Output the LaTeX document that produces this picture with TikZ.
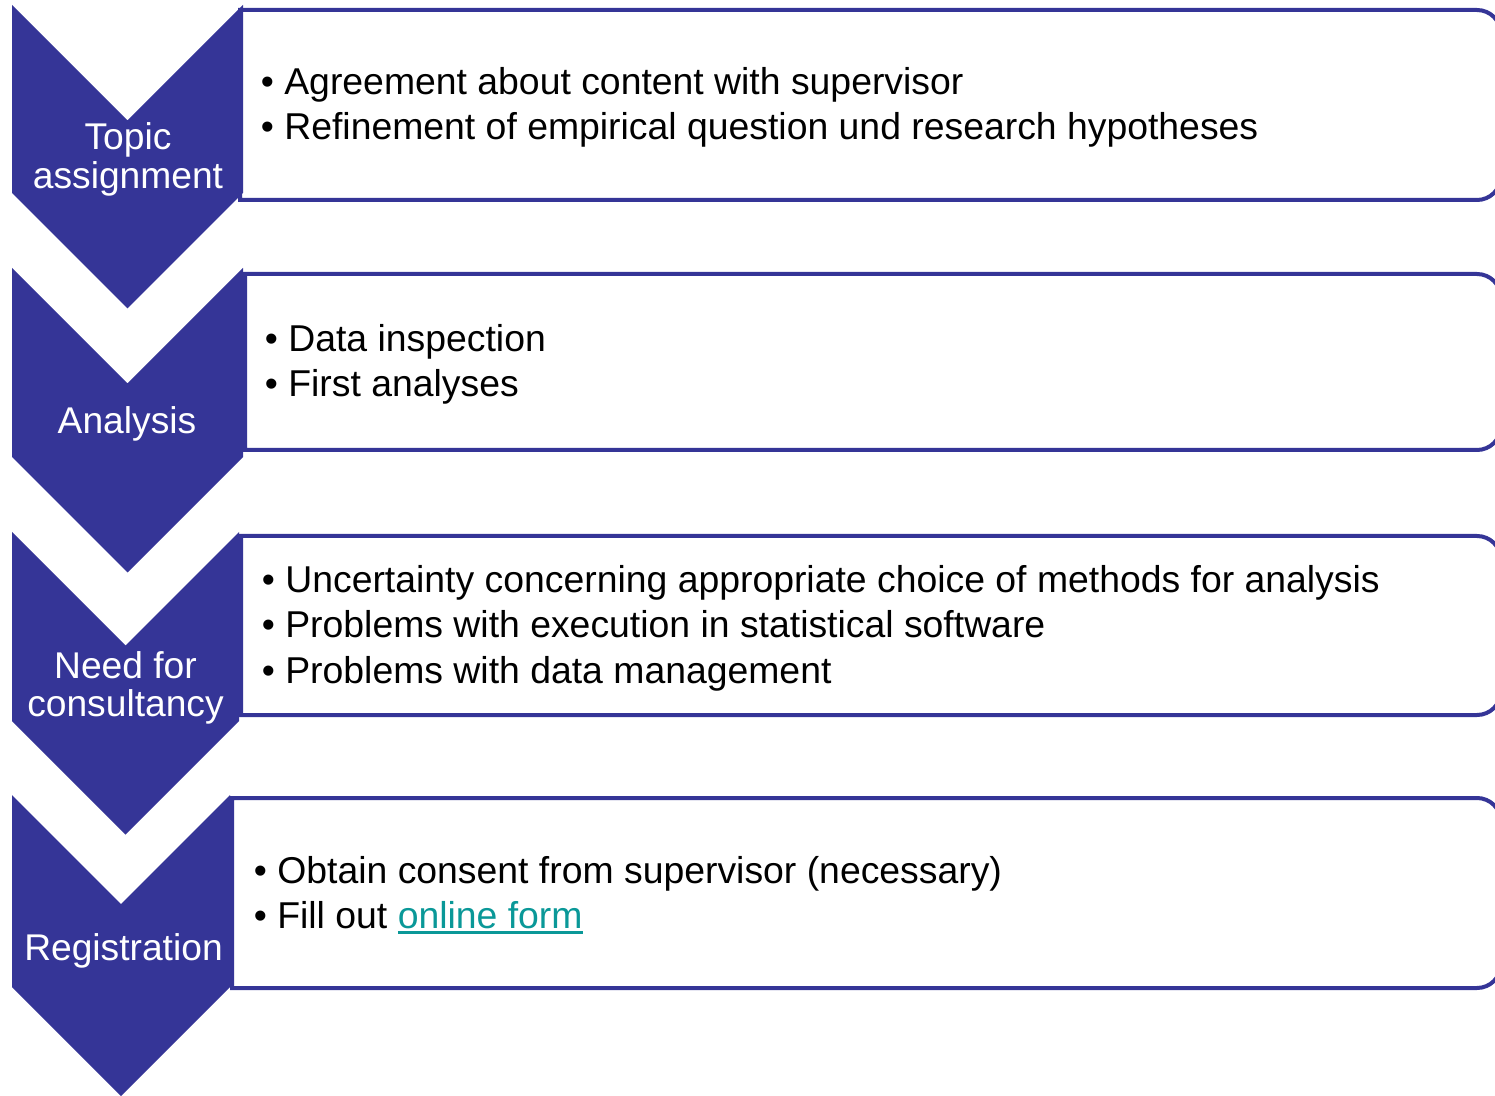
\documentclass[tikz,border=0pt]{standalone}
\usepackage{fontspec}
\setmainfont{Liberation Sans}
\usepackage{xcolor}
\usepackage{tikz}
\usetikzlibrary{calc,positioning}
\definecolor{chevblue}{RGB}{53,53,151}
\definecolor{linkteal}{RGB}{10,152,152}
\newcommand\bul{\textbullet\ }
\newcommand\weblink[1]{\textcolor{linkteal}{\setbox0\hbox{#1}\rlap{\rule[-3pt]{\wd0}{1.6pt}}\box0}}

\begin{document}
\begin{tikzpicture}[x=0.5pt,y=0.5pt,
  chev/.style={fill=chevblue,draw=none},
  boxline/.style={draw=chevblue,line width=2pt,fill=white},
  item/.style={anchor=base west,inner sep=0pt,font=\fontsize{18.68}{22}\selectfont},
  steplabel/.style={anchor=base,inner sep=0pt,text=white,font=\fontsize{18.6}{22}\selectfont}]
\useasboundingbox (0,0) rectangle (1495,-1096);
\clip (0,0) rectangle (1495,-1096);
% boxes, square on the left, rounded on the right
\draw[boxline] (240,-10) -- (1477,-10) arc[start angle=90,end angle=0,radius=24] -- (1501,-176) arc[start angle=0,end angle=-90,radius=24] -- (240,-200) -- cycle;
\draw[boxline] (245,-274) -- (1477,-274) arc[start angle=90,end angle=0,radius=24] -- (1501,-426) arc[start angle=0,end angle=-90,radius=24] -- (245,-450) -- cycle;
\draw[boxline] (241,-536) -- (1477,-536) arc[start angle=90,end angle=0,radius=24] -- (1501,-691) arc[start angle=0,end angle=-90,radius=24] -- (241,-715) -- cycle;
\draw[boxline] (232,-798) -- (1477,-798) arc[start angle=90,end angle=0,radius=24] -- (1501,-964) arc[start angle=0,end angle=-90,radius=24] -- (232,-988) -- cycle;
% chevrons
\fill[chev] (12,-5) -- (127.5,-120.5) -- (243,-5) -- (243,-193) -- (127.5,-308.5) -- (12,-193) -- cycle;
\fill[chev] (12,-268) -- (127.5,-383.5) -- (243,-268) -- (243,-457) -- (127.5,-572.5) -- (12,-457) -- cycle;
\fill[chev] (12,-532) -- (125.5,-645.5) -- (239,-532) -- (239,-721) -- (125.5,-834.5) -- (12,-721) -- cycle;
\fill[chev] (12,-795) -- (121,-904) -- (230,-795) -- (230,-987) -- (121,-1096) -- (12,-987) -- cycle;
% chevron labels
\node[steplabel] (topic1) at (128,-150) {Topic};
\node[steplabel] (topic2) at (128,-189) {assignment};
\node[steplabel] (analysis) at (127,-434) {Analysis};
\node[steplabel] (need1) at (125.5,-678) {Need for};
\node[steplabel] (need2) at (125.5,-716) {consultancy};
\node[steplabel] (registration) at (123.5,-960) {Registration};
% items
\node[item] (topicA) at (260.5,-95) {\bul Agreement about content with supervisor};
\node[item] (topicB) at (260.5,-140) {\bul Refinement of empirical question und research hypotheses};
\node[item] (analysisA) at (264.5,-352) {\bul Data inspection};
\node[item] (analysisB) at (264.5,-397) {\bul First analyses};
\node[item] (needA) at (261.5,-593) {\bul Uncertainty concerning appropriate choice of methods for analysis};
\node[item] (needB) at (261.5,-638) {\bul Problems with execution in statistical software};
\node[item] (needC) at (261.5,-683) {\bul Problems with data management};
\node[item] (regA) at (253.5,-883) {\bul Obtain consent from supervisor (necessary)};
\node[item] (regB) at (253.5,-928) {\bul Fill out \weblink{online form}};
\end{tikzpicture}
\end{document}
